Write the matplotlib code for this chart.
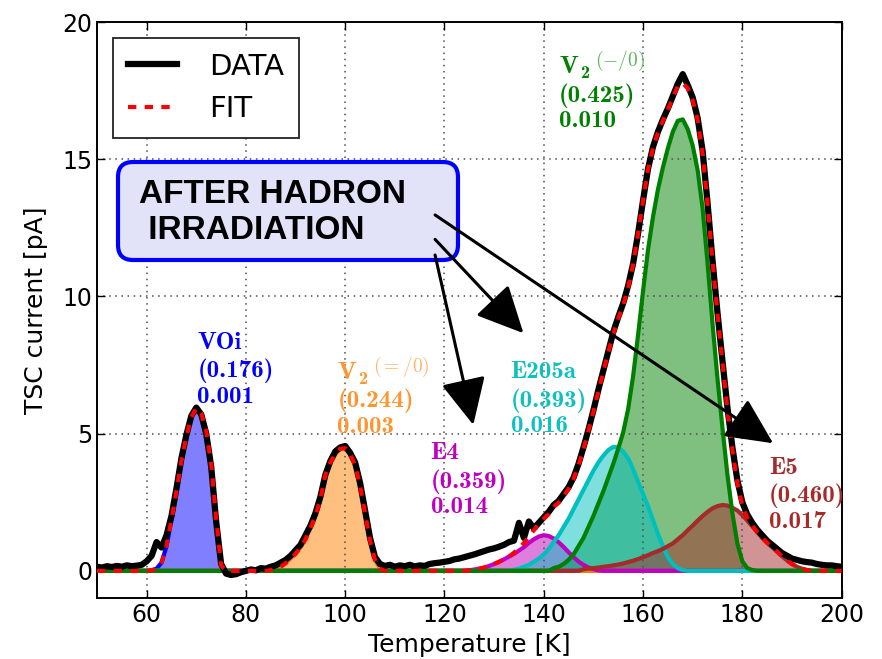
import numpy as np
import matplotlib
matplotlib.use('Agg')
import matplotlib.pyplot as plt
from matplotlib.patches import FancyBboxPatch

plt.rcParams['mathtext.fontset'] = 'cm'
plt.rcParams['axes.formatter.use_mathtext'] = False

# temperature grid [K], one point per kelvin
temp = np.arange(50, 201)

# measured TSC current [pA], 50..200 K
tsc_data = [0.15, 0.12, 0.17, 0.14, 0.18, 0.15, 0.20, 0.17, 0.19, 0.22,
            0.35, 0.55, 1.05, 0.85, 1.30, 2.00, 3.00, 4.10, 4.95, 5.65,
            5.95, 5.70, 5.00, 3.80, 1.80, 0.25, -0.10, -0.15, -0.12, -0.05,
            0.00, 0.05, 0.02, 0.10, 0.08, 0.15, 0.20, 0.30, 0.40, 0.55,
            0.75, 0.95, 1.30, 1.65, 2.10, 2.70, 3.50, 4.00, 4.35, 4.50,
            4.55, 4.30, 3.95, 3.20, 2.20, 1.20, 0.50, 0.25, 0.18, 0.22,
            0.15, 0.20, 0.17, 0.22, 0.16, 0.20, 0.18, 0.25, 0.28, 0.30,
            0.33, 0.36, 0.42, 0.45, 0.50, 0.55, 0.60, 0.66, 0.72, 0.78,
            0.82, 0.88, 0.95, 1.05, 1.10, 1.75, 1.20, 1.80, 1.55, 1.75,
            1.95, 2.15, 2.40, 2.55, 2.80, 3.05, 3.40, 3.90, 4.50, 5.15,
            5.85, 6.60, 7.30, 8.00, 8.70, 9.25, 9.75, 10.40, 11.20, 12.30,
            13.50, 14.65, 15.45, 16.00, 16.45, 16.85, 17.30, 17.75, 18.10, 17.70,
            17.25, 16.50, 15.30, 13.40, 11.30, 9.40, 7.65, 5.95, 4.50, 3.30,
            2.50, 2.05, 1.75, 1.50, 1.30, 1.10, 0.95, 0.80, 0.65, 0.55,
            0.45, 0.40, 0.35, 0.32, 0.30, 0.25, 0.22, 0.20, 0.20, 0.17,
            0.15]

# fitted peaks: first temperature + values every 1 K
voi_start = 61
voi = [0.02, 0.08, 0.3, 0.9, 1.86, 2.9, 4.0, 4.9, 5.6, 5.93, 5.75, 5.1, 3.9, 1.9, 0.2, 0.0]
v2a_start = 85
v2a = [0.03, 0.08, 0.15, 0.28, 0.45, 0.62, 0.85, 1.15, 1.55, 2.0, 2.6, 3.5,
       3.95, 4.25, 4.45, 4.47, 4.25, 3.85, 3.1, 2.1, 1.1, 0.4, 0.08, 0.0]
e4_start = 125
e4 = [0.02, 0.05, 0.08, 0.12, 0.18, 0.25, 0.33, 0.42, 0.52, 0.62, 0.74, 0.86,
      1.02, 1.15, 1.25, 1.3, 1.27, 1.18, 1.04, 0.87, 0.68, 0.5, 0.34, 0.22,
      0.12, 0.06, 0.02, 0.0]
e205_start = 134
e205 = [0.04, 0.08, 0.15, 0.22, 0.33, 0.45, 0.6, 0.8, 1.05, 1.3, 1.6, 1.9,
        2.25, 2.6, 2.95, 3.3, 3.65, 3.95, 4.2, 4.4, 4.52, 4.5, 4.35, 4.1,
        3.7, 3.25, 2.8, 2.35, 1.85, 1.35, 0.9, 0.5, 0.25, 0.1, 0.03, 0.0]
v2b_start = 142
v2b = [0.1, 0.15, 0.25, 0.4, 0.6, 0.9, 1.2, 1.6, 2.0, 2.45, 2.9, 3.4, 3.9,
       4.45, 5.05, 5.9, 7.1, 8.6, 10.2, 11.7, 12.9, 13.9, 14.7, 15.4, 16.0,
       16.4, 16.45, 16.1, 15.5, 14.6, 13.2, 11.2, 9.0, 7.0, 5.2, 3.5, 2.1,
       1.0, 0.35, 0.1, 0.03, 0.0]
e5_start = 148
e5 = [0.06, 0.08, 0.1, 0.12, 0.15, 0.17, 0.2, 0.23, 0.27, 0.32, 0.37, 0.43,
      0.5, 0.57, 0.65, 0.72, 0.8, 0.9, 1.0, 1.15, 1.3, 1.48, 1.65, 1.83, 2.0,
      2.15, 2.28, 2.36, 2.4, 2.38, 2.3, 2.2, 2.03, 1.83, 1.62, 1.41, 1.2,
      1.02, 0.86, 0.7, 0.53, 0.38, 0.25, 0.15, 0.08, 0.03, 0.0]

# labels: defect, (activation energy), sigma
names = ['VOi', 'V', 'E4', 'E205a', 'V', 'E5']
subs = ['', '2', '', '', '2', '']
sups = ['', r'$(=/0)$', '', '', r'$(-/0)$', '']
energies = ['(0.176)', '(0.244)', '(0.359)', '(0.393)', '(0.425)', '(0.460)']
sigmas = ['0.001', '0.003', '0.014', '0.016', '0.010', '0.017']
fill_colors = ['b', '#ff8000', 'm', 'c', 'g', 'brown']
text_colors = ['b', '#ff9530', 'm', '#10c0c0', 'g', '#a52a2a']
sup_colors = ['', '#ffb870', '', '', '#5fb35f', '']
label_x = [70.2, 98.4, 117.2, 133.3, 143.1, 185.4]
label_y = [8.72, 7.62, 4.70, 7.65, 18.76, 4.16]


def on_grid(start, vals):
    y = np.zeros(len(temp))
    i = start - temp[0]
    y[i:i + len(vals)] = vals
    return y


comps = [on_grid(voi_start, voi), on_grid(v2a_start, v2a), on_grid(e4_start, e4),
         on_grid(e205_start, e205), on_grid(v2b_start, v2b), on_grid(e5_start, e5)]
fit = np.sum(comps, axis=0)

fig = plt.figure(figsize=(8.82, 6.59), dpi=100)
ax = fig.add_axes([0.110, 0.0921, 0.8442, 0.8745])

# fills: green before cyan / brown so overlaps mix like the original
for k in [0, 1, 2, 4, 3, 5]:
    ax.fill_between(temp, 0, comps[k], color=fill_colors[k], alpha=0.5, lw=0, zorder=1)
for k in [0, 1, 2, 3, 5, 4]:
    ax.plot(temp, comps[k], color=fill_colors[k], lw=3, zorder=2)

l1, = ax.plot(temp, tsc_data, color='k', lw=4.5, zorder=3, label='DATA')
l2, = ax.plot(temp, fit, color='r', lw=3, ls=(0, (2, 2)), zorder=4, label='FIT')

ax.set_xlim(50, 200)
ax.set_ylim(-1, 20)
ax.set_xticks([60, 80, 100, 120, 140, 160, 180, 200])
ax.set_yticks([0, 5, 10, 15, 20])
ax.tick_params(direction='in', top=True, right=True, labelsize=17, length=6, width=1)
ax.grid(True, ls=(0, (1, 3)), color='0.3', lw=1.1)
for s in ax.spines.values():
    s.set_linewidth(1.4)
ax.set_xlabel('Temperature [K]', fontsize=18, labelpad=4)
ax.set_ylabel('TSC current [pA]', fontsize=18, labelpad=10)

leg = ax.legend(handles=[l1, l2], loc='upper left', fontsize=21, handlelength=1.7,
                handletextpad=1.1, borderpad=0.5, borderaxespad=0.55,
                fancybox=False, framealpha=1)
leg.get_frame().set_edgecolor('#222222')
leg.get_frame().set_linewidth(1.3)

# peak labels (Computer Modern bold)
pitch = 19.6
for k in range(6):
    lines = [names[k], energies[k], sigmas[k]]
    for j, s in enumerate(lines):
        ax.annotate(s, xy=(label_x[k], label_y[k]), xytext=(0, -j * pitch),
                    textcoords='offset points', va='top', ha='left',
                    fontsize=18, family='cmb10', color=text_colors[k], zorder=7)
    if subs[k]:
        ax.annotate(subs[k], xy=(label_x[k], label_y[k]), xytext=(15, -16),
                    textcoords='offset points', va='baseline', ha='left',
                    fontsize=13, family='cmb10', color=text_colors[k], zorder=7)
        ax.annotate(sups[k], xy=(label_x[k], label_y[k]), xytext=(26, 5),
                    textcoords='offset points', va='top', ha='left',
                    fontsize=14, color=sup_colors[k], zorder=7)

# label box (figure inches)
box = FancyBboxPatch((1.18, 3.99), 3.40, 0.98, boxstyle='round,pad=0,rounding_size=0.15',
                     transform=fig.dpi_scale_trans, fc='#e2e2f8', ec='blue', lw=3,
                     zorder=5, clip_on=False)
ax.add_patch(box)
ax.text(1.393, 4.80, 'AFTER HADRON\n IRRADIATION', transform=fig.dpi_scale_trans,
        fontsize=24, fontweight='bold', family='Liberation Sans', va='top', ha='left',
        linespacing=1.2, zorder=6)

# arrows from the box to the peaks
arrow_from = [(118.1, 12.97), (118.1, 12.08), (118.1, 11.51)]
arrow_to = [(186.2, 4.65), (135.9, 8.66), (125.8, 5.32)]
for a, b in zip(arrow_from, arrow_to):
    ax.annotate('', xy=b, xytext=a,
                arrowprops=dict(arrowstyle='-|>,head_length=2.9,head_width=1.4',
                                mutation_scale=10, lw=2.2, color='k',
                                shrinkA=0, shrinkB=0),
                zorder=8)

fig.savefig('out.png', dpi=100)
